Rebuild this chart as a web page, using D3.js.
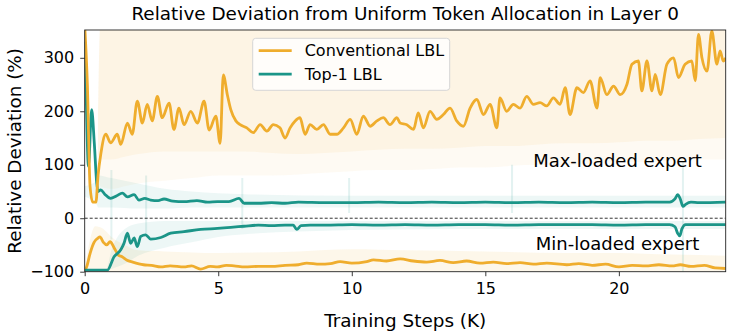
<!DOCTYPE html>
<html>
<head>
<meta charset="utf-8">
<script src="https://cdn.jsdelivr.net/npm/d3@7"></script>
<style>
  body { margin: 0; background: #fff; }
  svg { display: block; font-family: "DejaVu Sans", sans-serif; }
</style>
</head>
<body>
<svg id="chart" width="731" height="336"></svg>
<script>
const width = 731;
const height = 336;
const margin = { top: 30, right: 5.3, bottom: 64.3, left: 84.7 };
const chartWidth = width - margin.left - margin.right;
const chartHeight = height - margin.top - margin.bottom;

const orange = "#EFAD2D";
const teal = "#1B9588";

// smoothed curves (steps in K, deviation in %)
const convMaxSteps = [0, 0.1, 0.2, 0.3, 0.42, 0.5, 0.6, 0.79, 0.97, 1.22, 1.35, 1.6, 1.78, 1.97, 2.16, 2.34, 2.53, 2.72, 2.9, 3.16, 3.34, 3.53, 3.72, 3.97, 4.22, 4.47, 4.66, 4.91, 5.07, 5.19, 5.34, 5.47, 5.66, 5.82, 6.07, 6.31, 6.57, 6.82, 7.06, 7.31, 7.5, 7.69, 7.88, 8.06, 8.25, 8.44, 8.69, 8.94, 9.19, 9.44, 9.69, 9.94, 10.19, 10.43, 10.69, 10.94, 11.18, 11.43, 11.69, 11.81, 12.06, 12.31, 12.49, 12.68, 12.93, 13.18, 13.43, 13.68, 13.93, 14.18, 14.43, 14.68, 14.93, 15.18, 15.43, 15.55, 15.8, 16.05, 16.3, 16.55, 16.8, 17.05, 17.3, 17.55, 17.8, 17.99, 18.17, 18.43, 18.67, 18.92, 19.18, 19.3, 19.55, 19.8, 20.05, 20.3, 20.49, 20.73, 20.86, 21.05, 21.24, 21.36, 21.55, 21.8, 22.05, 22.23, 22.48, 22.73, 22.86, 22.98, 23.11, 23.3, 23.48, 23.67, 23.79, 23.91, 24];
const convMaxVals = [360, 250, 60, 30, 30, 80, 119, 157, 141, 157, 138, 178, 157, 219, 178, 213, 182, 228, 188, 215, 166, 206, 175, 200, 178, 219, 165, 191, 140, 268, 231, 203, 182, 175, 169, 160, 175, 163, 175, 169, 150, 169, 182, 188, 157, 175, 166, 175, 157, 157, 169, 185, 157, 191, 172, 182, 188, 175, 188, 178, 175, 166, 197, 169, 200, 185, 194, 206, 182, 172, 206, 222, 194, 213, 169, 225, 200, 213, 206, 228, 213, 216, 210, 225, 213, 244, 194, 244, 235, 257, 206, 263, 231, 247, 231, 250, 288, 294, 238, 294, 238, 269, 231, 288, 300, 263, 288, 294, 257, 344, 300, 275, 350, 288, 313, 294, 300];

const convMinSteps = [0, 0.08, 0.2, 0.35, 0.5, 0.57, 0.7, 0.82, 0.95, 1.1, 1.26, 1.4, 1.57, 1.8, 2.2, 2.5, 2.85, 3.2, 3.72, 4.0, 4.34, 4.7, 4.97, 5.3, 5.59, 6, 6.5, 7, 7.5, 8, 8.31, 8.8, 9.2, 9.56, 10, 10.56, 10.81, 11.3, 11.81, 12.3, 12.8, 13.3, 13.8, 14.3, 14.8, 15.3, 15.8, 16.3, 16.8, 17.3, 18.05, 18.5, 19, 19.5, 20, 20.5, 21, 21.5, 22, 22.3, 22.7, 23.2, 23.6, 24];
const convMinVals = [-99, -90, -66, -45, -37, -35, -45, -50, -44, -55, -69, -72, -78, -82, -87, -88, -91, -89, -91, -89, -95, -90, -91, -88, -89, -91, -90, -90, -88, -87, -84, -86, -85, -81, -84, -81, -78, -80, -76, -80, -82, -79, -83, -80, -84, -82, -85, -83, -86, -84, -87, -85, -88, -86, -91, -88, -89, -87, -89, -87, -90, -88, -93, -94];

const topMaxSteps = [0, 0.05, 0.14, 0.26, 0.36, 0.45, 0.5, 0.6, 0.75, 0.97, 1.2, 1.41, 1.6, 1.85, 2.03, 2.25, 2.47, 2.75, 2.97, 3.3, 3.72, 4.2, 4.6, 4.97, 5.4, 5.78, 5.97, 6.5, 7, 7.5, 8, 9, 10, 11, 12, 13, 14, 15, 16, 17, 18, 19, 20, 21, 21.9, 22.1, 22.2, 22.3, 22.4, 22.5, 22.7, 23, 24];
const topMaxVals = [330, 240, 97, 203, 140, 66, 50, 53, 45, 37, 42, 47, 40, 44, 34, 37, 34, 33, 36, 32, 31, 33, 30, 31, 31, 37, 28, 28, 29, 28, 30, 29, 29, 30, 29, 30, 29, 30, 29, 30, 29, 30, 29, 30, 30, 36, 44, 36, 22, 26, 30, 29, 30];

const topMinSteps = [0, 0.85, 1.1, 1.35, 1.47, 1.6, 1.72, 1.85, 1.97, 2.1, 2.28, 2.47, 2.85, 3.22, 3.72, 4.34, 4.97, 5.47, 5.97, 6.5, 7, 7.5, 7.81, 7.94, 8.1, 8.44, 9, 10, 11, 12, 13, 14, 15, 16, 17, 18, 19, 20, 21, 21.9, 22.1, 22.2, 22.28, 22.36, 22.5, 23, 24];
const topMinVals = [-97, -97, -72, -59, -47, -28, -47, -37, -53, -34, -31, -39, -36, -28, -25, -21, -19, -17, -15, -13, -14, -13, -13, -21, -14, -13, -13, -12, -13, -12, -13, -12, -12, -13, -12, -12, -12, -13, -12, -12, -16, -28, -33, -20, -12, -12, -12];

// faint raw-signal envelopes (outer reach and denser core)
const convMaxBandSteps = [0.5, 0.58, 1, 1.5, 2, 3, 4, 5, 6, 7, 8, 9, 10, 11, 12, 13, 14, 15, 16, 17, 18, 19, 20, 21, 22, 23, 24];
const convMaxOuterLo = [80, 60, 55, 60, 65, 70, 75, 80, 80, 80, 82, 85, 88, 90, 90, 92, 95, 95, 98, 100, 100, 102, 105, 105, 108, 110, 110];
const convMaxCoreLo = [120, 110, 110, 115, 120, 125, 125, 125, 125, 122, 120, 122, 125, 128, 130, 130, 132, 135, 135, 138, 140, 140, 142, 145, 145, 148, 150];
const convMaxBandHi = [200, 360, 360, 360, 360, 360, 360, 360, 360, 360, 360, 360, 360, 360, 360, 360, 360, 360, 360, 360, 360, 360, 360, 360, 360, 360, 360];

const convMinBandSteps = [0, 0.2, 0.4, 0.7, 1, 1.5, 2, 3, 5, 8, 10, 12, 15, 18, 20, 22, 24];
const convMinBandLo = [-100, -100, -100, -100, -100, -100, -100, -100, -100, -100, -100, -100, -100, -100, -100, -100, -100];
const convMinBandHi = [-100, -40, -15, -20, -35, -50, -60, -62, -65, -62, -58, -60, -62, -65, -65, -68, -70];

const topMaxBandSteps = [0, 0.45, 0.5, 1, 2, 3, 4, 6, 10, 15, 20, 24];
const topMaxBandLo = [40, 25, 20, 20, 18, 18, 20, 20, 20, 20, 20, 20];
const topMaxBandHi = [60, 70, 80, 75, 65, 55, 50, 45, 42, 42, 42, 42];

const topMinBandSteps = [0, 0.8, 1, 1.5, 2, 3, 4, 5, 6, 8, 10, 15, 20, 24];
const topMinBandLo = [-100, -100, -95, -85, -70, -55, -45, -35, -30, -25, -22, -20, -20, -20];
const topMinBandHi = [-95, -95, -60, -20, -10, -5, -5, -5, -5, -5, -5, -5, -5, -5];

// isolated faint spikes of the raw Top-1 signal
const tealSpikeSteps = [1.0, 2.3, 5.9, 9.9, 16.0, 22.4];
const tealSpikeLo = [-40, -30, -20, 10, 10, -100];
const tealSpikeHi = [90, 80, 75, 75, 100, 107];

const xTicks = [0, 5, 10, 15, 20];
const yTicks = [-100, 0, 100, 200, 300];
const legendItems = [
  { label: "Conventional LBL", color: orange },
  { label: "Top-1 LBL", color: teal }
];

const svg = d3.select("#chart");
const g = svg.append("g").attr("transform", `translate(${margin.left},${margin.top})`);

const x = d3.scaleLinear().domain([0, 24]).range([0, chartWidth]);
const y = d3.scaleLinear().domain([-100, 352]).range([chartHeight, 0]);

svg.append("defs").append("clipPath").attr("id", "clip")
  .append("rect").attr("width", chartWidth).attr("height", chartHeight);

const plot = g.append("g").attr("clip-path", "url(#clip)");

function zipBand(steps, lo, hi) {
  return steps.map((s, i) => ({ s, lo: lo[i], hi: hi[i] }));
}
function zip(steps, vals) {
  return steps.map((s, i) => ({ s, v: vals[i] }));
}

const area = d3.area().x(d => x(d.s)).y0(d => y(d.lo)).y1(d => y(d.hi)).curve(d3.curveMonotoneX);
const line = d3.line().x(d => x(d.s)).y(d => y(d.v)).curve(d3.curveMonotoneX);

const bands = [
  { data: zipBand(convMaxBandSteps, convMaxOuterLo, convMaxBandHi), color: orange, op: 0.06 },
  { data: zipBand(convMaxBandSteps, convMaxCoreLo, convMaxBandHi), color: orange, op: 0.07 },
  { data: zipBand(convMinBandSteps, convMinBandLo, convMinBandHi), color: orange, op: 0.1 },
  { data: zipBand(topMaxBandSteps, topMaxBandLo, topMaxBandHi), color: teal, op: 0.08 },
  { data: zipBand(topMinBandSteps, topMinBandLo, topMinBandHi), color: teal, op: 0.08 }
];

plot.selectAll("path.band")
  .data(bands).enter()
  .append("path")
  .attr("class", "band")
  .attr("d", d => area(d.data))
  .attr("fill", d => d.color)
  .attr("fill-opacity", d => d.op);

plot.selectAll("line.spike")
  .data(tealSpikeSteps).enter()
  .append("line")
  .attr("class", "spike")
  .attr("x1", d => x(d)).attr("x2", d => x(d))
  .attr("y1", (d, i) => y(tealSpikeLo[i])).attr("y2", (d, i) => y(tealSpikeHi[i]))
  .attr("stroke", teal).attr("stroke-opacity", 0.12).attr("stroke-width", 2);

// zero reference
plot.append("line")
  .attr("x1", 0).attr("x2", chartWidth)
  .attr("y1", y(0)).attr("y2", y(0))
  .attr("stroke", "#000")
  .attr("stroke-width", 0.8)
  .attr("stroke-dasharray", "3,2");

const curves = [
  { data: zip(convMinSteps, convMinVals), color: orange },
  { data: zip(topMinSteps, topMinVals), color: teal },
  { data: zip(topMaxSteps, topMaxVals), color: teal },
  { data: zip(convMaxSteps, convMaxVals), color: orange }
];

plot.selectAll("path.curve")
  .data(curves).enter()
  .append("path")
  .attr("class", "curve")
  .attr("d", d => line(d.data))
  .attr("fill", "none")
  .attr("stroke", d => d.color)
  .attr("stroke-width", 2.8)
  .attr("stroke-linejoin", "round");

// axes
const xAxis = g.append("g")
  .attr("transform", `translate(0,${chartHeight})`)
  .call(d3.axisBottom(x).tickValues(xTicks).tickSize(4.5).tickPadding(6).tickSizeOuter(0));
const yAxis = g.append("g")
  .call(d3.axisLeft(y).tickValues(yTicks).tickSize(4.5).tickPadding(6).tickSizeOuter(0));

[xAxis, yAxis].forEach(a => {
  a.select(".domain").remove();
  a.selectAll("line").attr("stroke", "#222").attr("stroke-width", 0.9);
  a.selectAll("text").attr("fill", "#000")
    .style("font-size", "16px").style("font-family", "DejaVu Sans");
});

// frame
g.append("rect")
  .attr("width", chartWidth).attr("height", chartHeight)
  .attr("fill", "none").attr("stroke", "#222").attr("stroke-width", 0.9);

// legend
const legend = g.append("g").attr("transform", "translate(168,8.3)");
legend.append("rect")
  .attr("width", 197).attr("height", 52)
  .attr("rx", 3)
  .attr("fill", "#fff").attr("fill-opacity", 0.8)
  .attr("stroke", "#d6d6d6").attr("stroke-width", 1);
legendItems.forEach((item, i) => {
  const yy = 12.4 + i * 23.5;
  legend.append("line")
    .attr("x1", 6).attr("x2", 39).attr("y1", yy).attr("y2", yy)
    .attr("stroke", item.color).attr("stroke-width", 2.8);
  legend.append("text")
    .attr("x", 52).attr("y", yy + 5.8)
    .style("font-size", "16px")
    .text(item.label);
});

// annotations
g.append("text")
  .attr("x", x(19.95)).attr("y", y(95.5))
  .attr("text-anchor", "middle")
  .style("font-size", "18px")
  .text("Max-loaded expert");
g.append("text")
  .attr("x", x(19.95)).attr("y", y(-60.3))
  .attr("text-anchor", "middle")
  .style("font-size", "18px")
  .text("Min-loaded expert");

// titles
svg.append("text")
  .attr("x", margin.left + chartWidth / 2).attr("y", 20)
  .attr("text-anchor", "middle")
  .style("font-size", "18.4px")
  .text("Relative Deviation from Uniform Token Allocation in Layer 0");
svg.append("text")
  .attr("x", margin.left + chartWidth / 2).attr("y", 326.5)
  .attr("text-anchor", "middle")
  .style("font-size", "18.4px")
  .text("Training Steps (K)");
svg.append("text")
  .attr("transform", `translate(21,${margin.top + chartHeight / 2}) rotate(-90)`)
  .attr("text-anchor", "middle")
  .style("font-size", "18.4px")
  .text("Relative Deviation (%)");
</script>
</body>
</html>
